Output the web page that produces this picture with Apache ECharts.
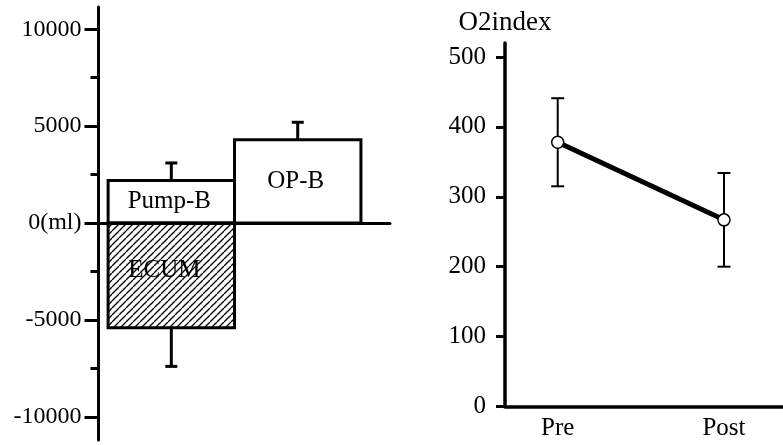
<!DOCTYPE html>
<html>
<head>
<meta charset="utf-8">
<script src="https://cdn.jsdelivr.net/npm/echarts@6/dist/echarts.min.js"></script>
<style>
html,body{margin:0;padding:0;background:#fff;}
#chart{width:783px;height:445px;}
</style>
</head>
<body>
<div id="chart"></div>
<script>
// ---- Left panel data (fluid balance, ml) ----
const barNames = ['Pump-B', 'OP-B', 'ECUM'];
const barSlots = [1, 2, 1];
const barValues = [2200, 4300, -5400];
const barErrors = [900, 900, 2000];
const leftMajorTicks = [-10000, -5000, 0, 5000, 10000];
const leftMinorTicks = [-7500, -2500, 2500, 7500];
const zeroLabel = '0(ml)';

// ---- Right panel data (O2 index) ----
const timeLabels = ['Pre', 'Post'];
const timeSlots = [1, 2];
const o2Mean = [378, 267];
const o2SD = [63, 67];
const rightTicks = [0, 100, 200, 300, 400, 500];
const rightTitle = 'O2index';

const FONT = 'Liberation Serif';

// hatch pattern
const pc = document.createElement('canvas');
pc.width = 7; pc.height = 7;
const g = pc.getContext('2d');
g.strokeStyle = '#000';
g.lineWidth = 1.3;
for (let k = -1; k <= 1; k++) {
  g.beginPath();
  g.moveTo(k * 7, 7);
  g.lineTo(k * 7 + 7, 0);
  g.stroke();
}
const hatch = { image: pc, repeat: 'repeat' };

const chart = echarts.init(document.getElementById('chart'), null, { renderer: 'canvas' });

const barData = barValues.map((v, i) => [barSlots[i], v, barErrors[i]]);
const o2Data = o2Mean.map((v, i) => [timeSlots[i], v, o2SD[i]]);

chart.setOption({
  backgroundColor: '#fff',
  animation: false,
  grid: [
    { left: 98.5, right: 393, top: 7, bottom: 5 },
    { left: 505, right: 0, top: 43, bottom: 38.5 }
  ],
  xAxis: [
    {
      gridIndex: 0, type: 'value', min: 0.424, max: 2.73,
      axisLine: { show: true, onZero: true, lineStyle: { color: '#000', width: 3 } },
      axisTick: { show: false }, axisLabel: { show: false }, splitLine: { show: false }
    },
    {
      gridIndex: 1, type: 'value', min: 0.683, max: 2.355,
      axisLine: { show: true, lineStyle: { color: '#000', width: 3.5 } },
      axisTick: { show: false },
      axisLabel: {
        customValues: timeSlots,
        formatter: v => timeLabels[timeSlots.indexOf(v)] || '',
        fontFamily: FONT, fontSize: 25, color: '#000', margin: 9
      },
      splitLine: { show: false }
    }
  ],
  yAxis: [
    {
      gridIndex: 0, type: 'value', position: 'left', min: -11200, max: 11150,
      axisLine: { show: true, onZero: false, lineStyle: { color: '#000', width: 3 } },
      axisTick: { show: true, customValues: leftMajorTicks, length: 14, lineStyle: { color: '#000', width: 3 } },
      axisLabel: {
        customValues: leftMajorTicks,
        formatter: v => (v === 0 ? zeroLabel : String(v)),
        fontFamily: FONT, fontSize: 24, color: '#000', margin: 17
      },
      splitLine: { show: false }
    },
    {
      gridIndex: 0, type: 'value', position: 'left', offset: 0, min: -11200, max: 11150,
      axisLine: { show: false, onZero: false },
      axisTick: { show: true, customValues: leftMinorTicks, length: 8, lineStyle: { color: '#000', width: 3 } },
      axisLabel: { show: false },
      splitLine: { show: false }
    },
    {
      gridIndex: 1, type: 'value', position: 'left', min: 0, max: 520,
      name: rightTitle, nameLocation: 'end', nameGap: 7,
      nameTextStyle: { fontFamily: FONT, fontSize: 27, color: '#000' },
      axisLine: { show: true, onZero: false, lineStyle: { color: '#000', width: 3.5 } },
      axisTick: { show: true, customValues: rightTicks, length: 9, lineStyle: { color: '#000', width: 3 } },
      axisLabel: {
        customValues: rightTicks,
        fontFamily: FONT, fontSize: 25, color: '#000', margin: 19
      },
      splitLine: { show: false }
    }
  ],
  series: [
    {
      type: 'custom', xAxisIndex: 0, yAxisIndex: 0, z: 2,
      data: barData,
      renderItem: function (params, api) {
        const x = api.value(0), v = api.value(1), err = api.value(2);
        const base = api.coord([x, v]);
        const end = api.coord([x, v + Math.sign(v) * err]);
        return {
          type: 'group',
          children: [
            { type: 'line', shape: { x1: base[0], y1: base[1], x2: end[0], y2: end[1] }, style: { stroke: '#000', lineWidth: 3 } },
            { type: 'line', shape: { x1: end[0] - 6, y1: end[1], x2: end[0] + 6, y2: end[1] }, style: { stroke: '#000', lineWidth: 3 } }
          ]
        };
      }
    },
    {
      type: 'custom', xAxisIndex: 0, yAxisIndex: 0, z: 3,
      data: barData,
      renderItem: function (params, api) {
        const i = params.dataIndex;
        const x = api.value(0), v = api.value(1);
        const p0 = api.coord([x - 0.5, 0]);
        const p1 = api.coord([x + 0.5, v]);
        const neg = v < 0;
        const cx = (p0[0] + p1[0]) / 2 + (neg ? -7 : -2);
        const cy = (p0[1] + p1[1]) / 2 + (neg ? -5 : 0);
        return {
          type: 'group',
          children: [
            {
              type: 'rect',
              shape: { x: Math.min(p0[0], p1[0]), y: Math.min(p0[1], p1[1]), width: Math.abs(p1[0] - p0[0]), height: Math.abs(p1[1] - p0[1]) },
              style: { fill: neg ? hatch : '#fff', stroke: '#000', lineWidth: 3 }
            },
            {
              type: 'text',
              style: { text: barNames[i], x: cx, y: cy, align: 'center', verticalAlign: 'middle', fontFamily: FONT, fontSize: 25, fill: '#000' }
            }
          ]
        };
      }
    },
    {
      type: 'custom', xAxisIndex: 1, yAxisIndex: 2, z: 2,
      data: o2Data,
      renderItem: function (params, api) {
        const x = api.value(0), m = api.value(1), sd = api.value(2);
        const top = api.coord([x, m + sd]);
        const bot = api.coord([x, m - sd]);
        const s = { stroke: '#000', lineWidth: 2 };
        return {
          type: 'group',
          children: [
            { type: 'line', shape: { x1: top[0], y1: top[1], x2: bot[0], y2: bot[1] }, style: s },
            { type: 'line', shape: { x1: top[0] - 6.5, y1: top[1], x2: top[0] + 6.5, y2: top[1] }, style: s },
            { type: 'line', shape: { x1: bot[0] - 6.5, y1: bot[1], x2: bot[0] + 6.5, y2: bot[1] }, style: s }
          ]
        };
      }
    },
    {
      type: 'line', xAxisIndex: 1, yAxisIndex: 2, z: 4,
      data: o2Data.map(d => [d[0], d[1]]),
      symbol: 'circle', symbolSize: 12, showAllSymbol: true,
      lineStyle: { color: '#000', width: 5 },
      itemStyle: { color: '#fff', borderColor: '#000', borderWidth: 1.5 }
    }
  ]
});
</script>
</body>
</html>
